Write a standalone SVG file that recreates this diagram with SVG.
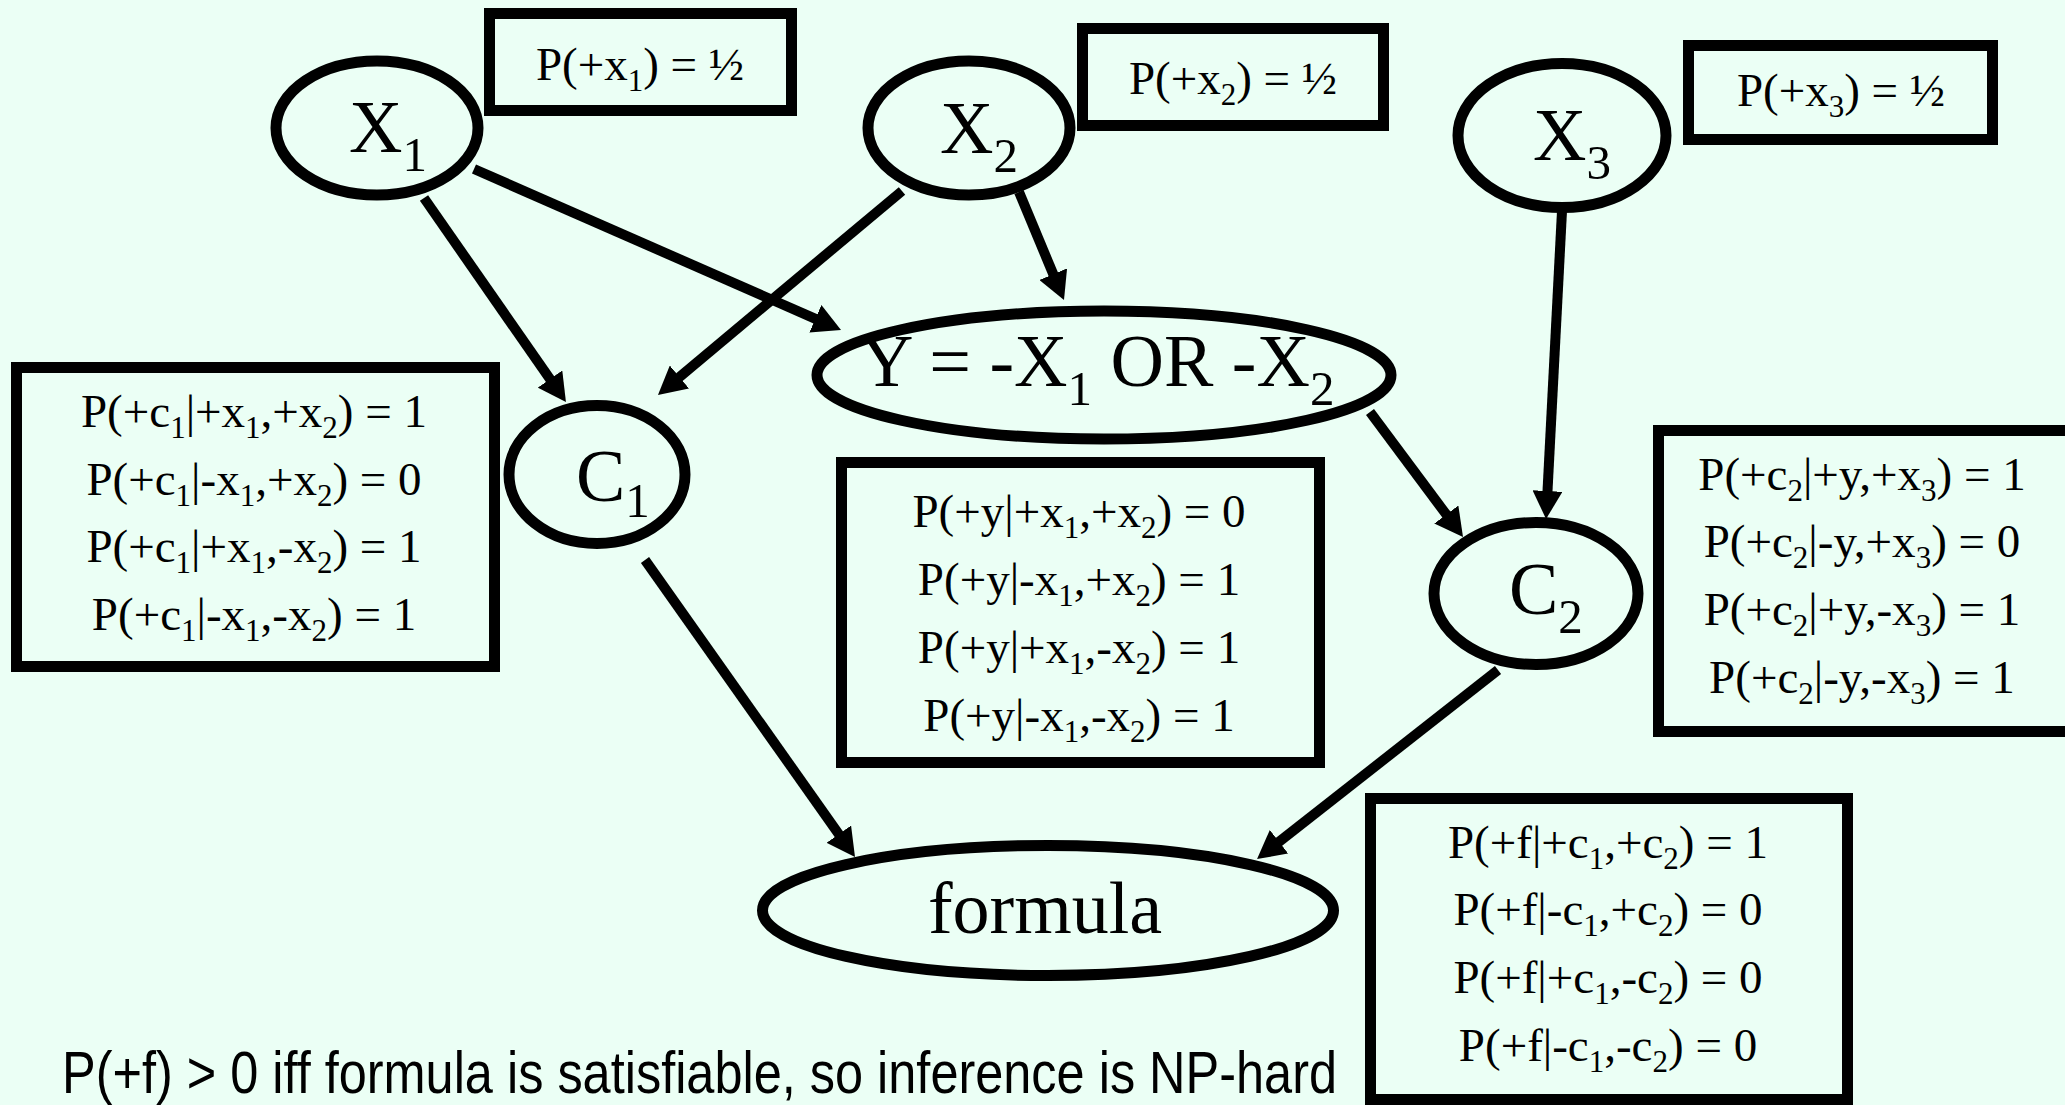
<svg xmlns="http://www.w3.org/2000/svg" width="2065" height="1105" viewBox="0 0 2065 1105">
<style>
.bg{fill:#EBFFF5}
.node{fill:none;stroke:#000;stroke-width:11}
.box{fill:none;stroke:#000;stroke-width:11}
.lbl{font-family:"Liberation Serif","Times New Roman",serif;font-size:74px;fill:#000}
.ls{font-size:49px}
.t{font-family:"Liberation Serif","Times New Roman",serif;font-size:47px;fill:#000;text-anchor:middle}
.s{font-size:31px}
.edge{stroke:#000;stroke-width:10;fill:none;marker-end:url(#ah)}
.foot{font-family:"Liberation Sans",Arial,sans-serif;font-size:60px;fill:#000}
</style>
<defs>
<marker id="ah" markerUnits="userSpaceOnUse" markerWidth="30" markerHeight="30" refX="2" refY="15" orient="auto" viewBox="0 0 30 30">
<path d="M0,0 L28,15 L0,30 Z" fill="#000"/>
</marker>
</defs>
<rect class="bg" x="0" y="0" width="2065" height="1105"/>

<g id="connectors">
<line class="edge" x1="424" y1="198" x2="551.1" y2="380.7"/>
<line class="edge" x1="474" y1="169" x2="817.2" y2="319.6"/>
<line class="edge" x1="902" y1="191" x2="677.9" y2="378.3"/>
<line class="edge" x1="1019" y1="192" x2="1054" y2="276"/>
<line class="edge" x1="1562" y1="211" x2="1547.4" y2="493"/>
<line class="edge" x1="1370" y1="412" x2="1447.5" y2="516.1"/>
<line class="edge" x1="645" y1="560" x2="840" y2="835.8"/>
<line class="edge" x1="1498" y1="670" x2="1277.5" y2="843"/>
</g>

<g id="X1">
<ellipse class="node" cx="377" cy="128" rx="101" ry="67"/>
<text class="lbl" x="349" y="152">X<tspan class="ls" dy="19">1</tspan></text>
</g>
<g id="X1-cpt">
<rect class="box" x="489.5" y="13.5" width="302" height="97"/>
<text class="t" x="640" y="80">P(+x<tspan class="s" dy="11">1</tspan><tspan dy="-11">) = ½</tspan></text>
</g>

<g id="X2">
<ellipse class="node" cx="969" cy="128" rx="101" ry="67"/>
<text class="lbl" x="940" y="153">X<tspan class="ls" dy="19">2</tspan></text>
</g>
<g id="X2-cpt">
<rect class="box" x="1082.5" y="28.5" width="301" height="97"/>
<text class="t" x="1233" y="94">P(+x<tspan class="s" dy="11">2</tspan><tspan dy="-11">) = ½</tspan></text>
</g>

<g id="X3">
<ellipse class="node" cx="1562" cy="135.5" rx="104" ry="72"/>
<text class="lbl" x="1533" y="160">X<tspan class="ls" dy="19">3</tspan></text>
</g>
<g id="X3-cpt">
<rect class="box" x="1688.5" y="45.5" width="304" height="94"/>
<text class="t" x="1841" y="106">P(+x<tspan class="s" dy="11">3</tspan><tspan dy="-11">) = ½</tspan></text>
</g>

<g id="Y">
<ellipse class="node" cx="1104" cy="375" rx="287" ry="64"/>
<text class="lbl" x="860" y="386">Y = -X<tspan class="ls" dy="19">1</tspan><tspan dy="-19"> OR -X</tspan><tspan class="ls" dy="19">2</tspan></text>
</g>
<g id="Y-cpt">
<rect class="box" x="841.5" y="462.5" width="478" height="300"/>
<text class="t" x="1079" y="527">P(+y|+x<tspan class="s" dy="11">1</tspan><tspan dy="-11">,+x</tspan><tspan class="s" dy="11">2</tspan><tspan dy="-11">) = 0</tspan></text>
<text class="t" x="1079" y="595">P(+y|-x<tspan class="s" dy="11">1</tspan><tspan dy="-11">,+x</tspan><tspan class="s" dy="11">2</tspan><tspan dy="-11">) = 1</tspan></text>
<text class="t" x="1079" y="663">P(+y|+x<tspan class="s" dy="11">1</tspan><tspan dy="-11">,-x</tspan><tspan class="s" dy="11">2</tspan><tspan dy="-11">) = 1</tspan></text>
<text class="t" x="1079" y="731">P(+y|-x<tspan class="s" dy="11">1</tspan><tspan dy="-11">,-x</tspan><tspan class="s" dy="11">2</tspan><tspan dy="-11">) = 1</tspan></text>
</g>

<g id="C1">
<ellipse class="node" cx="597" cy="474.5" rx="88" ry="69"/>
<text class="lbl" x="576" y="501">C<tspan class="ls" dy="16">1</tspan></text>
</g>
<g id="C1-cpt">
<rect class="box" x="16.5" y="367.5" width="478" height="299"/>
<text class="t" x="254" y="427">P(+c<tspan class="s" dy="11">1</tspan><tspan dy="-11">|+x</tspan><tspan class="s" dy="11">1</tspan><tspan dy="-11">,+x</tspan><tspan class="s" dy="11">2</tspan><tspan dy="-11">) = 1</tspan></text>
<text class="t" x="254" y="495">P(+c<tspan class="s" dy="11">1</tspan><tspan dy="-11">|-x</tspan><tspan class="s" dy="11">1</tspan><tspan dy="-11">,+x</tspan><tspan class="s" dy="11">2</tspan><tspan dy="-11">) = 0</tspan></text>
<text class="t" x="254" y="562">P(+c<tspan class="s" dy="11">1</tspan><tspan dy="-11">|+x</tspan><tspan class="s" dy="11">1</tspan><tspan dy="-11">,-x</tspan><tspan class="s" dy="11">2</tspan><tspan dy="-11">) = 1</tspan></text>
<text class="t" x="254" y="630">P(+c<tspan class="s" dy="11">1</tspan><tspan dy="-11">|-x</tspan><tspan class="s" dy="11">1</tspan><tspan dy="-11">,-x</tspan><tspan class="s" dy="11">2</tspan><tspan dy="-11">) = 1</tspan></text>
</g>

<g id="C2">
<ellipse class="node" cx="1536" cy="593.5" rx="102" ry="71"/>
<text class="lbl" x="1509" y="614">C<tspan class="ls" dy="19">2</tspan></text>
</g>
<g id="C2-cpt">
<rect class="box" x="1658.5" y="430.5" width="420" height="301"/>
<text class="t" x="1862" y="490">P(+c<tspan class="s" dy="11">2</tspan><tspan dy="-11">|+y,+x</tspan><tspan class="s" dy="11">3</tspan><tspan dy="-11">) = 1</tspan></text>
<text class="t" x="1862" y="557">P(+c<tspan class="s" dy="11">2</tspan><tspan dy="-11">|-y,+x</tspan><tspan class="s" dy="11">3</tspan><tspan dy="-11">) = 0</tspan></text>
<text class="t" x="1862" y="625">P(+c<tspan class="s" dy="11">2</tspan><tspan dy="-11">|+y,-x</tspan><tspan class="s" dy="11">3</tspan><tspan dy="-11">) = 1</tspan></text>
<text class="t" x="1862" y="693">P(+c<tspan class="s" dy="11">2</tspan><tspan dy="-11">|-y,-x</tspan><tspan class="s" dy="11">3</tspan><tspan dy="-11">) = 1</tspan></text>
</g>

<g id="formula">
<ellipse class="node" cx="1048" cy="910.5" rx="285.5" ry="65"/>
<text class="lbl" x="1045" y="933" text-anchor="middle">formula</text>
</g>
<g id="formula-cpt">
<rect class="box" x="1370.5" y="798.5" width="477" height="301"/>
<text class="t" x="1608" y="858">P(+f|+c<tspan class="s" dy="11">1</tspan><tspan dy="-11">,+c</tspan><tspan class="s" dy="11">2</tspan><tspan dy="-11">) = 1</tspan></text>
<text class="t" x="1608" y="925">P(+f|-c<tspan class="s" dy="11">1</tspan><tspan dy="-11">,+c</tspan><tspan class="s" dy="11">2</tspan><tspan dy="-11">) = 0</tspan></text>
<text class="t" x="1608" y="993">P(+f|+c<tspan class="s" dy="11">1</tspan><tspan dy="-11">,-c</tspan><tspan class="s" dy="11">2</tspan><tspan dy="-11">) = 0</tspan></text>
<text class="t" x="1608" y="1061">P(+f|-c<tspan class="s" dy="11">1</tspan><tspan dy="-11">,-c</tspan><tspan class="s" dy="11">2</tspan><tspan dy="-11">) = 0</tspan></text>
</g>

<text class="foot" x="62" y="1093" textLength="1275" lengthAdjust="spacingAndGlyphs">P(+f) &gt; 0 iff formula is satisfiable, so inference is NP-hard</text>
</svg>
